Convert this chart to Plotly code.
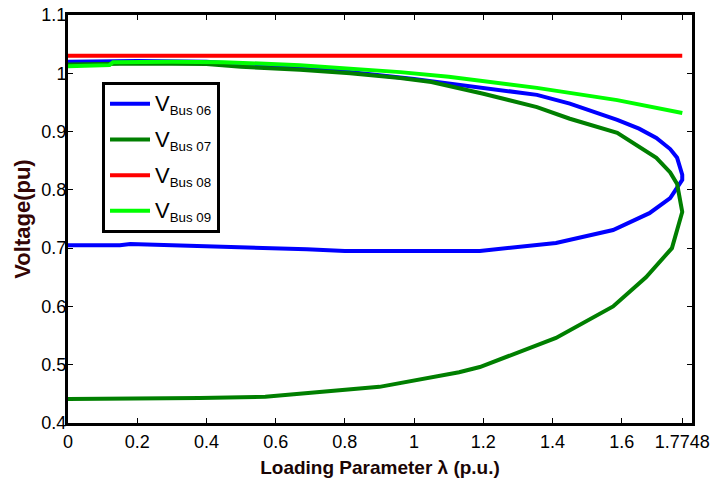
import plotly.graph_objects as go

# Bus 06 (upper branch then lower branch of the PV nose curve)
lam_06 = [0, 0.2, 0.4, 0.6, 0.8, 1.0, 1.2, 1.355, 1.45, 1.587, 1.65, 1.70, 1.74, 1.76, 1.7748,
          1.7748, 1.74, 1.68, 1.575, 1.41, 1.19, 0.96, 0.8, 0.69, 0.57, 0.38, 0.2, 0.18, 0.15, 0]
v_06 = [1.02, 1.021, 1.02, 1.012, 1.003, 0.99, 0.975, 0.963, 0.948, 0.92, 0.905, 0.889, 0.87, 0.855, 0.826,
        0.817, 0.786, 0.76, 0.731, 0.709, 0.695, 0.695, 0.695, 0.698, 0.70, 0.703, 0.705, 0.707, 0.705, 0.705]

# Bus 07
lam_07 = [0, 0.2, 0.4, 0.5, 0.67, 0.815, 0.96, 1.05, 1.2, 1.355, 1.45, 1.587, 1.70, 1.74, 1.76, 1.7748,
          1.745, 1.67, 1.575, 1.41, 1.19, 1.13, 0.9, 0.8, 0.57, 0.38, 0]
v_07 = [1.015, 1.017, 1.016, 1.011, 1.006, 1.0, 0.992, 0.985, 0.965, 0.942, 0.922, 0.898, 0.855, 0.83, 0.81, 0.762,
        0.70, 0.65, 0.60, 0.546, 0.496, 0.487, 0.462, 0.457, 0.445, 0.443, 0.441]

# Bus 08
lam_08 = [0, 0.5, 1.0, 1.5, 1.7748]
v_08 = [1.03, 1.03, 1.03, 1.03, 1.03]

# Bus 09
lam_09 = [0, 0.12, 0.13, 0.3, 0.45, 0.67, 0.96, 1.10, 1.355, 1.587, 1.775]
v_09 = [1.012, 1.014, 1.019, 1.02, 1.019, 1.014, 1.002, 0.994, 0.975, 0.954, 0.932]

bus_labels = ["Bus 06", "Bus 07", "Bus 08", "Bus 09"]
colors = ["#0000FF", "#007F00", "#FF0000", "#00FF00"]
xs_all = [lam_06, lam_07, lam_08, lam_09]
ys_all = [v_06, v_07, v_08, v_09]

x_tickvals = [0, 0.2, 0.4, 0.6, 0.8, 1.0, 1.2, 1.4, 1.6, 1.7748]
x_ticktext = ["0", "0.2", "0.4", "0.6", "0.8", "1", "1.2", "1.4", "1.6", "1.7748"]
y_tickvals = [0.4, 0.5, 0.6, 0.7, 0.8, 0.9, 1.0, 1.1]
y_ticktext = ["0.4", "0.5", "0.6", "0.7", "0.8", "0.9", "1", "1.1"]

FONT = "Liberation Sans, Arial, sans-serif"

fig = go.Figure()
for lbl, xs, ys, col in zip(bus_labels, xs_all, ys_all, colors):
    fig.add_trace(go.Scatter(
        x=xs, y=ys, mode="lines",
        name="<span style='font-size:22px'>V</span><sub>" + lbl + "</sub>",
        legendgroup=lbl,
        line=dict(color=col, width=4)))

tickfont = dict(family=FONT, size=18, color="black")
fig.update_layout(
    width=712, height=482,
    margin=dict(l=68, r=20, t=15, b=59, autoexpand=False),
    paper_bgcolor="white", plot_bgcolor="white",
    showlegend=True,
    legend=dict(x=0.0545, y=0.836, xanchor="left", yanchor="top",
                bordercolor="black", borderwidth=3, bgcolor="white",
                font=dict(family=FONT, size=19, color="black"),
                traceorder="grouped", tracegroupgap=8, itemwidth=40),
    xaxis=dict(range=[0, 1.803], tickvals=x_tickvals, ticktext=x_ticktext,
               showgrid=False, zeroline=False, showline=True, linewidth=3, linecolor="black",
               mirror="ticks", ticks="inside", ticklen=5, tickcolor="black",
               tickfont=tickfont, automargin=False,
               title=dict(text="<b>Loading Parameter λ (p.u.)</b>",
                          font=dict(family=FONT, size=19, color="#1a0505"),
                          standoff=11)),
    yaxis=dict(range=[0.4, 1.1], tickvals=y_tickvals, ticktext=y_ticktext,
               showgrid=False, zeroline=False, showline=True, linewidth=3, linecolor="black",
               mirror="ticks", ticks="inside", ticklen=5, tickcolor="black",
               tickfont=tickfont, automargin=False, ticklabelstandoff=-5,
               title=dict(text="<b>Voltage(pu)</b>",
                          font=dict(family=FONT, size=22, color="#330505"),
                          standoff=5)),
)
fig.update_xaxes(tickprefix="<b>", ticksuffix="</b>")
fig.update_yaxes(tickprefix="<b>", ticksuffix="</b>")
fig.write_html("out.html", config={"displayModeBar": False},
               post_script="document.body.style.margin='0';")
